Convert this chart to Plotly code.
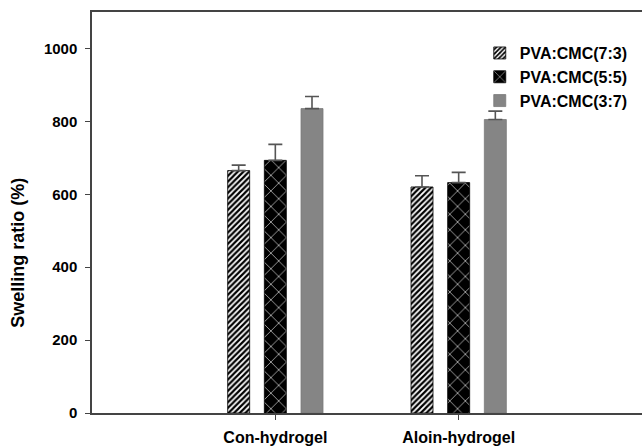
import plotly.graph_objects as go

categories = ["Con-hydrogel", "Aloin-hydrogel"]
series_names = ["PVA:CMC(7:3)", "PVA:CMC(5:5)", "PVA:CMC(3:7)"]
values = {
    "PVA:CMC(7:3)": [665, 620],
    "PVA:CMC(5:5)": [693, 632],
    "PVA:CMC(3:7)": [835, 805],
}
errors = {
    "PVA:CMC(7:3)": [15, 31],
    "PVA:CMC(5:5)": [44, 28],
    "PVA:CMC(3:7)": [33, 23],
}
y_ticks = [0, 200, 400, 600, 800, 1000]
y_title = "Swelling ratio (%)"

FONT = "Liberation Sans, Arial, sans-serif"

styles = {
    "PVA:CMC(7:3)": dict(color="white",
                         pattern=dict(shape="/", fgcolor="black", bgcolor="white",
                                      size=4, solidity=0.55, fillmode="replace"),
                         line=dict(color="black", width=0.8)),
    "PVA:CMC(5:5)": dict(color="black",
                         pattern=dict(shape="x", fgcolor="#dddddd", bgcolor="black",
                                      size=11, solidity=0.12, fillmode="replace"),
                         line=dict(color="black", width=0.8)),
    "PVA:CMC(3:7)": dict(color="#858585",
                         line=dict(color="#7a7a7a", width=0.8)),
}

fig = go.Figure()
for name in series_names:
    fig.add_trace(go.Bar(
        name=name,
        x=categories,
        y=values[name],
        marker=styles[name],
        error_y=dict(type="data", array=errors[name],
                     arrayminus=[0] * len(categories), symmetric=False,
                     color="#555555", thickness=1.6, width=7),
    ))

fig.add_annotation(
    text=y_title, textangle=-90, xref="paper", yref="paper",
    x=-0.136, y=0.40, xanchor="center", yanchor="middle", showarrow=False,
    font=dict(family=FONT, size=18, color="black", weight="bold"),
)

fig.update_layout(
    width=642, height=448,
    margin=dict(l=92, r=0, t=12, b=35, autoexpand=False),
    paper_bgcolor="white", plot_bgcolor="white",
    barmode="group", bargap=0.4, bargroupgap=0.4,
    font=dict(family=FONT, size=15, color="black"),
    showlegend=True,
    legend=dict(x=0.705, y=0.94, xanchor="left", yanchor="top",
                bgcolor="rgba(0,0,0,0)",
                font=dict(family=FONT, size=16, color="black", weight="bold"),
                itemwidth=30, tracegroupgap=0),
    xaxis=dict(range=[-1, 2], showgrid=False, zeroline=False, automargin=False,
               showline=True, linecolor="#444444", linewidth=1.5, mirror=True,
               ticks="outside", ticklen=5, tickcolor="#444444", ticklabelstandoff=4,
               tickfont=dict(family=FONT, size=16, color="black", weight="bold")),
    yaxis=dict(range=[0, 1100], tickvals=y_ticks, showgrid=False, zeroline=False,
               automargin=False,
               showline=True, linecolor="#444444", linewidth=1.5,
               ticks="outside", ticklen=5, tickcolor="#444444", ticklabelstandoff=5,
               tickfont=dict(family=FONT, size=15, color="black", weight="bold")),
)

fig.write_html("out.html", config={"displayModeBar": False},
               post_script="document.body.style.margin='0';")
